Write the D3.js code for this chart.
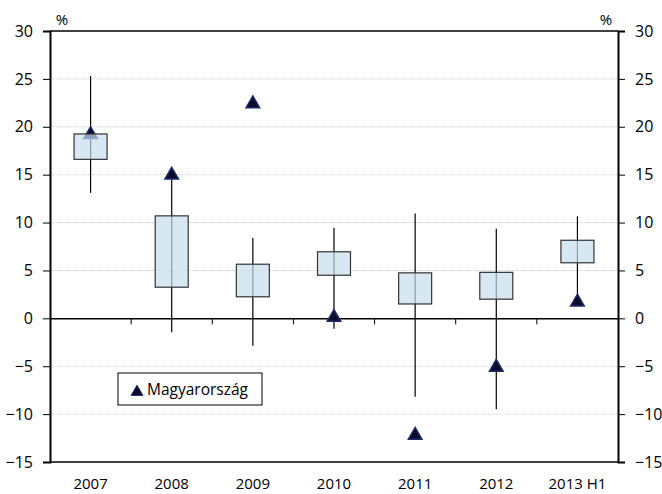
<!DOCTYPE html>
<html>
<head>
<meta charset="utf-8">
<script src="https://cdn.jsdelivr.net/npm/d3@7"></script>
<style>
  body { margin: 0; background: #fff; }
  text { font-family: "Open Sans", sans-serif; fill: #000; }
</style>
</head>
<body>
<div id="chart"></div>
<script>
var categories = ["2007", "2008", "2009", "2010", "2011", "2012", "2013 H1"];
var boxLow  = [16.6, 3.25, 2.25, 4.5, 1.5, 2.0, 5.8];
var boxHigh = [19.25, 10.7, 5.65, 6.95, 4.75, 4.8, 8.15];
var whiskerLow  = [13.1, -1.45, -2.85, -1.1, -8.2, -9.5, 1.8];
var whiskerHigh = [25.3, 15.0, 8.4, 9.45, 10.95, 9.35, 10.65];
var hungary = [19.3, 15.05, 22.5, 0.2, -12.1, -5.0, 1.8];
var yTicks = [-15, -10, -5, 0, 5, 10, 15, 20, 25, 30];
var legendLabel = "Magyarország";

var svgWidth = 662, svgHeight = 494;
var margin = {top: 31, right: 44, bottom: 32, left: 50};
var width = svgWidth - margin.left - margin.right;
var height = svgHeight - margin.top - margin.bottom;

var svg = d3.select("#chart").append("svg")
  .attr("width", svgWidth)
  .attr("height", svgHeight);

var g = svg.append("g")
  .attr("transform", `translate(${margin.left}, ${margin.top})`);

var x = d3.scaleBand().domain(categories).range([0, width]);
var y = d3.scaleLinear().domain([-15, 30]).range([height, 0]);

// gridlines (dotted)
g.selectAll("line.grid")
  .data(yTicks.filter(d => d !== 0 && d !== 30 && d !== -15))
  .enter().append("line")
  .attr("class", "grid")
  .attr("x1", 0).attr("x2", width)
  .attr("y1", d => y(d)).attr("y2", d => y(d))
  .attr("stroke", "#d0d0d0")
  .attr("stroke-dasharray", "1,1");

// frame top / bottom
g.append("line").attr("x1", 0).attr("x2", width).attr("y1", 0).attr("y2", 0)
  .attr("stroke", "#000").attr("stroke-width", 1.5);
g.append("line").attr("x1", 0).attr("x2", width).attr("y1", height).attr("y2", height)
  .attr("stroke", "#000").attr("stroke-width", 1.5);

// left and right axes
var leftAxis = d3.axisLeft(y).tickValues(yTicks).tickSize(7).tickPadding(10);
var rightAxis = d3.axisRight(y).tickValues(yTicks).tickSize(7).tickPadding(10);

var la = g.append("g").call(leftAxis);
var ra = g.append("g").attr("transform", `translate(${width},0)`).call(rightAxis);
[la, ra].forEach(function(a) {
  a.select(".domain").attr("stroke", "#000").attr("stroke-width", 2);
  a.selectAll(".tick line").attr("stroke", "#000");
  a.selectAll(".tick text").style("font-size", "16px").style("font-family", "'Open Sans', sans-serif");
});

// zero line with category ticks
var zeroAxis = d3.axisBottom(x).tickSize(0).tickFormat("");
var za = g.append("g").attr("transform", `translate(0,${y(0)})`).call(zeroAxis);
za.select(".domain").attr("stroke", "#000").attr("stroke-width", 1.5);
g.selectAll("line.cattick")
  .data(categories.slice(1))
  .enter().append("line")
  .attr("class", "cattick")
  .attr("x1", d => x(d)).attr("x2", d => x(d))
  .attr("y1", y(0)).attr("y2", y(0) + 6)
  .attr("stroke", "#000");

// category labels
g.selectAll("text.cat")
  .data(categories)
  .enter().append("text")
  .attr("class", "cat")
  .attr("x", d => x(d) + x.bandwidth() / 2)
  .attr("y", height + 27)
  .attr("text-anchor", "middle")
  .style("font-size", "15px")
  .text(d => d);

// % labels
g.append("text").attr("x", 12).attr("y", -6).attr("text-anchor", "middle")
  .style("font-size", "15px").text("%");
g.append("text").attr("x", width - 12).attr("y", -6).attr("text-anchor", "middle")
  .style("font-size", "15px").text("%");

var cx = (d, i) => x(categories[i]) + x.bandwidth() / 2;

// whiskers
g.selectAll("line.whisker")
  .data(categories)
  .enter().append("line")
  .attr("class", "whisker")
  .attr("x1", cx).attr("x2", cx)
  .attr("y1", (d, i) => y(whiskerHigh[i]))
  .attr("y2", (d, i) => y(whiskerLow[i]))
  .attr("stroke", "#000")
  .attr("stroke-width", 1.2);

// triangles
var tri = d3.symbol().type(d3.symbolTriangle).size(80);
g.selectAll("path.hu")
  .data(hungary)
  .enter().append("path")
  .attr("class", "hu")
  .attr("d", tri)
  .attr("transform", (d, i) => `translate(${cx(d, i)},${y(d) + 1})`)
  .attr("fill", "#0b0b2a")
  .attr("stroke", "#1f2a6b")
  .attr("stroke-width", 1.5);

// boxes (semi transparent, on top)
var boxW = 33;
g.selectAll("rect.box")
  .data(categories)
  .enter().append("rect")
  .attr("class", "box")
  .attr("x", (d, i) => cx(d, i) - boxW / 2)
  .attr("width", boxW)
  .attr("y", (d, i) => y(boxHigh[i]))
  .attr("height", (d, i) => y(boxLow[i]) - y(boxHigh[i]))
  .attr("fill", "rgba(200,222,238,0.7)")
  .attr("stroke", "#333")
  .attr("stroke-width", 1.2);

// legend
var lg = svg.append("g").attr("transform", "translate(118,373)");
lg.append("rect").attr("width", 144).attr("height", 32)
  .attr("fill", "#fff").attr("stroke", "#000").attr("stroke-width", 1);
lg.append("path").attr("d", d3.symbol().type(d3.symbolTriangle).size(60))
  .attr("transform", "translate(19,19)")
  .attr("fill", "#0b0b2a").attr("stroke", "#1f2a6b");
lg.append("text").attr("x", 29).attr("y", 22)
  .style("font-size", "15.5px").text(legendLabel);
</script>
</body>
</html>
